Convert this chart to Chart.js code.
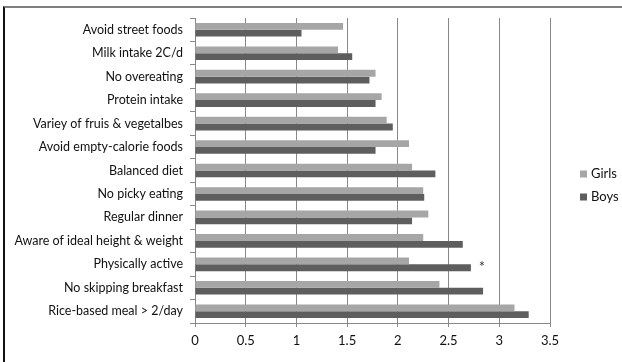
<!DOCTYPE html>
<html>
<head>
<meta charset="utf-8">
<script src="https://cdn.jsdelivr.net/npm/chart.js@4/dist/chart.umd.min.js"></script>
<style>
  html, body { margin: 0; padding: 0; background: #fff; }
  #wrap { position: relative; width: 622px; height: 362px; }
  #frame { position: absolute; left: 3px; top: 6px; right: 0; bottom: 0;
           border-top: 2px solid #7f7f7f; border-left: 2px solid #111; }
  canvas { position: absolute; left: 0; top: 0; }
</style>
</head>
<body>
<div id="wrap">
  <div id="frame"></div>
  <canvas id="chart" width="622" height="362"></canvas>
</div>
<script>
// Mean scores per nutrition-related behaviour, listed top to bottom
const categories = [
  'Avoid street foods',
  'Milk intake 2C/d',
  'No overeating',
  'Protein intake',
  'Variey of fruis & vegetalbes',
  'Avoid empty-calorie foods',
  'Balanced diet',
  'No picky eating',
  'Regular dinner',
  'Aware of ideal height & weight',
  'Physically active',
  'No skipping breakfast',
  'Rice-based meal > 2/day'
];
const girls = [1.46, 1.41, 1.78, 1.84, 1.89, 2.11, 2.14, 2.25, 2.30, 2.25, 2.11, 2.41, 3.15];
const boys  = [1.05, 1.55, 1.72, 1.78, 1.95, 1.78, 2.37, 2.26, 2.14, 2.64, 2.72, 2.84, 3.29];
// Significance marks shown after the boys' bar
const significance = ['', '', '', '', '', '', '', '', '', '', '*', '', ''];
const xTicks = [0, 0.5, 1, 1.5, 2, 2.5, 3, 3.5];

const FONT = 'Lato, "Open Sans", sans-serif';

// Draws the asterisk markers beside the boys' bars
const markerPlugin = {
  id: 'markers',
  afterDatasetsDraw(chart) {
    const ctx = chart.ctx;
    const meta = chart.getDatasetMeta(1);
    ctx.save();
    ctx.fillStyle = '#333';
    ctx.font = '15px ' + FONT;
    ctx.textAlign = 'center';
    ctx.textBaseline = 'middle';
    significance.forEach((m, i) => {
      if (!m) return;
      const bar = meta.data[i];
      ctx.fillText(m, bar.x + 11, bar.y - 1);
    });
    ctx.restore();
  }
};

// Legend on the right, stacked vertically
const sideLegend = {
  id: 'sideLegend',
  afterDraw(chart) {
    const ctx = chart.ctx;
    ctx.save();
    ctx.font = '13px ' + FONT;
    ctx.textBaseline = 'middle';
    ctx.textAlign = 'left';
    const x = 580, y0 = 174, gap = 23;
    chart.data.datasets.forEach((ds, i) => {
      const y = y0 + i * gap;
      ctx.fillStyle = ds.backgroundColor;
      ctx.fillRect(x, y - 3.5, 7, 7);
      ctx.fillStyle = '#111';
      ctx.fillText(ds.label, x + 11, y);
    });
    ctx.restore();
  }
};

new Chart(document.getElementById('chart'), {
  type: 'bar',
  data: {
    labels: categories,
    datasets: [
      { label: 'Girls', data: girls, backgroundColor: '#a6a6a6',
        categoryPercentage: 0.58, barPercentage: 1.0 },
      { label: 'Boys', data: boys, backgroundColor: '#5e5e5e',
        categoryPercentage: 0.58, barPercentage: 1.0 }
    ]
  },
  options: {
    indexAxis: 'y',
    responsive: false,
    animation: false,
    devicePixelRatio: 1,
    layout: { padding: { top: 18, right: 72, bottom: 0, left: 0 } },
    plugins: { legend: { display: false }, tooltip: { enabled: false } },
    scales: {
      x: {
        min: 0, max: 3.5,
        afterBuildTicks(scale) { scale.ticks = xTicks.map(v => ({ value: v })); },
        afterFit(scale) { scale.height = 39; },
        grid: { color: '#888', lineWidth: 1, tickLength: 4, drawTicks: true },
        border: { display: true, color: '#888' },
        ticks: { color: '#111', font: { family: FONT, size: 13 }, padding: 6,
                 maxRotation: 0, autoSkip: false,
                 callback: v => String(v) }
      },
      y: {
        afterFit(scale) { scale.width = 195; },
        grid: { drawOnChartArea: false, drawTicks: true, tickLength: 5, color: '#888', offset: true },
        border: { display: true, color: '#888' },
        ticks: { color: '#111', font: { family: FONT, size: 12.5 }, padding: 7, autoSkip: false }
      }
    }
  },
  plugins: [markerPlugin, sideLegend]
});
</script>
</body>
</html>
